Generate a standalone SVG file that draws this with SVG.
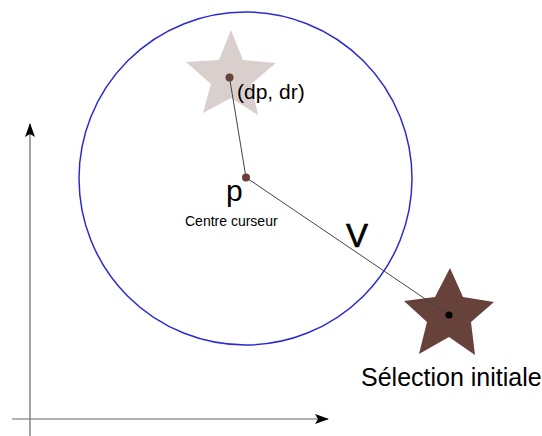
<svg xmlns="http://www.w3.org/2000/svg" width="542" height="436" viewBox="0 0 542 436">
<defs>
<style>
text{font-family:"Liberation Sans",Arial,sans-serif;fill:#000}
.axis{stroke:#666;stroke-width:1.2;fill:none}
.conn{stroke:#444;stroke-width:1;fill:none}
</style>
<marker id="arr" markerWidth="14" markerHeight="10" refX="13" refY="5" orient="auto" markerUnits="userSpaceOnUse">
<path d="M0,0 L14,5 L0,10 L3,5 Z" fill="#000"/>
</marker>
</defs>
<rect width="542" height="436" fill="#fff"/>
<g id="axes">
<line class="axis" x1="30" y1="436" x2="30" y2="124" marker-end="url(#arr)"/>
<line class="axis" x1="12" y1="419" x2="328" y2="419" marker-end="url(#arr)"/>
</g>
<g id="circle">
<circle cx="245.5" cy="178.5" r="166.5" fill="none" stroke="#2b2bd0" stroke-width="1.5"/>
</g>
<g id="star-target">
<polygon points="231,30 243,60 276,63 251,84 258,115 231,98 203,113 211,84 186,62 219,60" fill="#d9cfcc"/>
<circle cx="229.5" cy="77.5" r="4" fill="#6b4038"/>
<text x="237" y="99" font-size="21">(dp, dr)</text>
</g>
<g id="star-initial">
<polygon points="450,268 463,297 494,302 471,322 475,355 449,337 419,354 427,322 404,301 435,297" fill="#66423a"/>
<text x="361" y="386" font-size="25">Sélection initiale</text>
</g>
<g id="connectors">
<line class="conn" x1="229.5" y1="77.5" x2="246" y2="177.5"/>
<line class="conn" x1="246" y1="177.5" x2="449" y2="315"/>
</g>
<g id="dots">
<circle cx="449" cy="315" r="3.6" fill="#000"/>
</g>
<g id="center">
<circle cx="246" cy="177.5" r="4" fill="#6b4038"/>
<text x="226" y="201" font-size="30">p</text>
<text x="185" y="226" font-size="14">Centre curseur</text>
</g>
<g id="v-label">
<text x="346" y="247" font-size="33" stroke="#000" stroke-width="0.6">V</text>
</g>
</svg>
